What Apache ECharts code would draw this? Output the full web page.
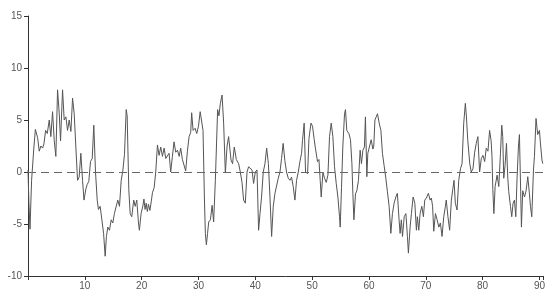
<!DOCTYPE html>
<html>
<head>
<meta charset="utf-8">
<script src="https://cdn.jsdelivr.net/npm/echarts@6/dist/echarts.min.js"></script>
<style>
  html, body { margin: 0; padding: 0; background: #fff; }
  #chart { width: 548px; height: 297px; }
</style>
</head>
<body>
<div id="chart"></div>
<script>
var xValues = [
  0.0, 0.15, 0.35, 0.63, 1.04, 1.3, 1.69, 1.98, 2.27, 2.57, 2.8, 3.1, 3.39, 3.74, 4.02, 4.32, 4.62, 4.9, 5.2, 5.5,
  5.73, 6.08, 6.37, 6.67, 6.96, 7.25, 7.55, 7.84, 8.13, 8.42, 8.72, 9.0, 9.3, 9.6, 9.85, 10.2, 10.42, 10.7, 11.0, 11.3,
  11.58, 11.88, 12.18, 12.4, 12.7, 13.0, 13.3, 13.58, 13.8, 14.05, 14.34, 14.64, 14.92, 15.2, 15.5, 15.8, 16.1, 16.4, 16.68, 16.98,
  17.28, 17.45, 17.74, 17.98, 18.26, 18.6, 18.86, 19.14, 19.44, 19.6, 19.9, 20.2, 20.4, 20.6, 20.8, 21.0, 21.2, 21.45, 21.7, 21.9,
  22.2, 22.48, 22.78, 23.07, 23.36, 23.66, 23.95, 24.24, 24.53, 24.83, 25.11, 25.41, 25.7, 26.0, 26.3, 26.6, 26.87, 27.17, 27.47, 27.75,
  28.05, 28.35, 28.63, 28.8, 29.05, 29.4, 29.7, 30.0, 30.3, 30.8, 31.04, 31.21, 31.39, 31.6, 31.8, 32.1, 32.4, 32.67, 32.97, 33.37,
  33.6, 33.85, 34.15, 34.43, 34.73, 35.03, 35.3, 35.73, 36.0, 36.3, 36.66, 37.07, 37.36, 37.66, 37.94, 38.24, 38.54, 38.82, 39.12, 39.42,
  39.7, 40.0, 40.3, 40.58, 40.83, 41.1, 41.4, 41.7, 42.0, 42.3, 42.58, 42.87, 43.16, 43.46, 43.74, 44.04, 44.34, 44.62, 44.9, 45.2,
  45.5, 45.8, 46.1, 46.38, 46.67, 46.97, 47.26, 47.56, 47.85, 48.14, 48.3, 48.6, 48.84, 49.2, 49.44, 49.8, 50.07, 50.37, 50.6, 50.95,
  51.2, 51.42, 51.6, 51.9, 52.18, 52.48, 52.78, 53.06, 53.36, 53.65, 53.94, 54.24, 54.53, 54.82, 54.94, 55.17, 55.4, 55.7, 55.87, 56.1,
  56.47, 56.75, 57.0, 57.17, 57.35, 57.63, 57.87, 58.15, 58.45, 58.68, 58.93, 59.2, 59.38, 59.63, 59.8, 60.09, 60.39, 60.69, 60.85, 61.05,
  61.5, 61.8, 62.1, 62.37, 62.67, 62.97, 63.25, 63.55, 63.85, 64.13, 64.43, 64.73, 65.0, 65.3, 65.48, 65.7, 65.9, 66.2, 66.5, 66.77,
  66.94, 67.24, 67.47, 67.77, 68.07, 68.35, 68.52, 68.77, 69.0, 69.3, 69.58, 69.82, 70.1, 70.46, 70.76, 70.98, 71.2, 71.4, 71.7, 72.0,
  72.3, 72.57, 72.86, 73.16, 73.45, 73.6, 73.9, 74.2, 74.5, 74.74, 74.97, 75.2, 75.5, 75.8, 76.1, 76.38, 76.68, 76.96, 77.14, 77.38,
  77.74, 78.0, 78.3, 78.6, 78.88, 79.17, 79.47, 79.77, 80.06, 80.36, 80.64, 80.94, 81.23, 81.5, 81.65, 81.8, 81.98, 82.2, 82.55, 82.85,
  83.14, 83.37, 83.54, 83.72, 83.95, 84.2, 84.43, 84.6, 84.9, 85.13, 85.36, 85.6, 85.84, 86.06, 86.3, 86.48, 86.7, 86.83, 87.06, 87.37,
  87.65, 87.95, 88.24, 88.42, 88.65, 88.95, 89.12, 89.4, 89.7, 90.0, 90.17, 90.45, 90.58
];
var yValues = [
  0.2, -2.8, -5.5, -0.8, 2.4, 4.1, 3.3, 2.0, 2.5, 2.3, 2.7, 4.0, 3.7, 5.0, 3.4, 5.8, 3.0, 1.5, 7.9, 5.6,
  3.0, 7.9, 5.0, 5.3, 4.0, 5.0, 3.9, 7.1, 5.6, 2.4, -0.8, -0.5, 1.8, -0.8, -2.7, -1.6, -1.2, -0.9, 1.0, 1.3,
  4.5, 0.0, -2.7, -3.6, -3.3, -4.6, -5.9, -8.1, -6.2, -5.3, -5.6, -4.6, -4.9, -4.0, -4.0, -2.7, -3.3, -0.8, 0.1, 1.7,
  6.0, 5.4, -1.7, -4.0, -4.3, -2.7, -3.3, -2.7, -4.9, -5.6, -4.0, -3.3, -2.6, -3.6, -3.0, -3.8, -3.1, -3.7, -2.8, -2.0,
  -1.5, 0.0, 2.6, 1.6, 2.4, 1.5, 2.3, 1.3, 1.4, 1.8, 0.0, 1.5, 2.9, 1.9, 2.1, 1.5, 2.3, 1.2, 1.1, 0.1,
  2.0, 3.4, 3.8, 5.7, 4.0, 4.2, 3.7, 4.4, 5.8, 4.0, -2.4, -5.9, -7.0, -5.9, -4.8, -4.6, -3.2, -4.8, -0.8, 6.0,
  5.4, 6.6, 7.4, 4.7, -0.1, 2.5, 3.4, 1.15, 0.8, 2.4, 1.2, 0.8, 0.0, -1.0, -2.7, -3.0, 0.0, 0.5, 0.35, 0.2,
  -1.1, 0.0, 0.2, -5.6, -4.0, -2.4, 0.0, 0.8, 2.3, 0.8, -2.4, -6.2, -3.3, -2.05, -2.05, -0.6, 0.0, 1.3, 2.75, 1.1,
  0.0, -0.6, -0.8, -0.5, -1.4, -2.7, -0.8, 0.0, 1.0, 1.8, 3.0, 4.7, 0.0, -0.15, 3.2, 4.7, 4.4, 3.1, 2.2, 1.0,
  1.2, -0.8, -2.4, 0.0, -0.6, -1.0, -0.3, 3.4, 4.7, 3.4, 0.5, -1.1, -2.4, -4.3, -5.3, -1.5, 2.4, 5.6, 6.0, 4.0,
  3.7, 3.1, 0.8, -2.1, -4.6, -2.1, -1.8, -0.8, 2.1, 0.8, 2.1, 2.4, 5.3, -0.45, 1.8, 1.8, 3.1, 2.2, 2.5, 5.0,
  5.6, 4.7, 4.0, 1.8, 0.6, -0.6, -1.9, -3.3, -5.9, -4.0, -3.0, -2.4, -2.05, -4.6, -5.9, -4.6, -6.2, -4.3, -4.0, -6.2,
  -7.8, -5.3, -4.0, -2.4, -3.0, -5.6, -4.3, -5.6, -4.0, -3.3, -4.3, -2.7, -2.5, -2.05, -2.7, -2.5, -3.3, -5.7, -4.0, -4.6,
  -5.3, -4.9, -6.2, -4.3, -3.3, -2.7, -4.3, -5.6, -2.7, -1.7, -0.8, -3.0, -3.65, -0.8, 0.3, 0.8, 4.7, 6.6, 5.4, 3.1,
  0.8, 0.0, 0.3, 1.9, 2.75, 3.4, 0.0, 1.3, 1.6, 1.0, 2.3, 2.0, 4.0, 3.0, 1.5, -1.7, -4.0, -1.4, -0.3, -1.4,
  1.8, 4.5, 3.4, -0.6, 0.6, 2.75, -0.6, -1.9, -3.3, -4.3, -3.0, -2.7, -4.3, -0.6, 2.4, 3.6, -1.9, -5.3, -1.8, -2.4,
  -1.8, -0.45, -2.1, -3.3, -4.3, 0.2, 1.5, 5.15, 3.6, 4.0, 2.8, 1.15, 0.8
];
var xTickLabels = [10, 20, 30, 40, 50, 60, 70, 80, 90];
var yTickLabels = [-10, -5, 0, 5, 10, 15];
var referenceLevel = 0;

var seriesData = xValues.map(function (x, i) { return [x, yValues[i]]; });

var chart = echarts.init(document.getElementById('chart'), null, { renderer: 'canvas' });
var font = "'Liberation Sans', Arial, sans-serif";
chart.setOption({
  animation: false,
  backgroundColor: '#ffffff',
  grid: { left: 28, right: 2, top: 16, bottom: 21, containLabel: false },
  xAxis: {
    type: 'value',
    min: 0,
    max: 90.7,
    interval: 10,
    splitLine: { show: false },
    axisLine: { show: true, onZero: false, lineStyle: { color: '#333', width: 1 } },
    axisTick: { show: true, length: 4, lineStyle: { color: '#333' } },
    axisLabel: {
      color: '#555', fontSize: 10, fontFamily: font, margin: 5,
      formatter: function (v) { return xTickLabels.indexOf(v) >= 0 ? String(v) : ''; }
    }
  },
  yAxis: {
    type: 'value',
    min: -10,
    max: 15,
    interval: 5,
    splitLine: { show: false },
    axisLine: { show: true, lineStyle: { color: '#333', width: 1 } },
    axisTick: { show: true, length: 4, lineStyle: { color: '#333' } },
    axisLabel: {
      color: '#555', fontSize: 10, fontFamily: font, margin: 6,
      formatter: function (v) { return yTickLabels.indexOf(v) >= 0 ? String(v) : ''; }
    }
  },
  series: [{
    type: 'line',
    data: seriesData,
    showSymbol: false,
    symbol: 'none',
    lineStyle: { color: '#555', width: 1 },
    markLine: {
      silent: true,
      symbol: 'none',
      label: { show: false },
      lineStyle: { color: '#666', width: 1, type: [8, 5] },
      data: [{ yAxis: referenceLevel }]
    }
  }]
});
</script>
</body>
</html>
